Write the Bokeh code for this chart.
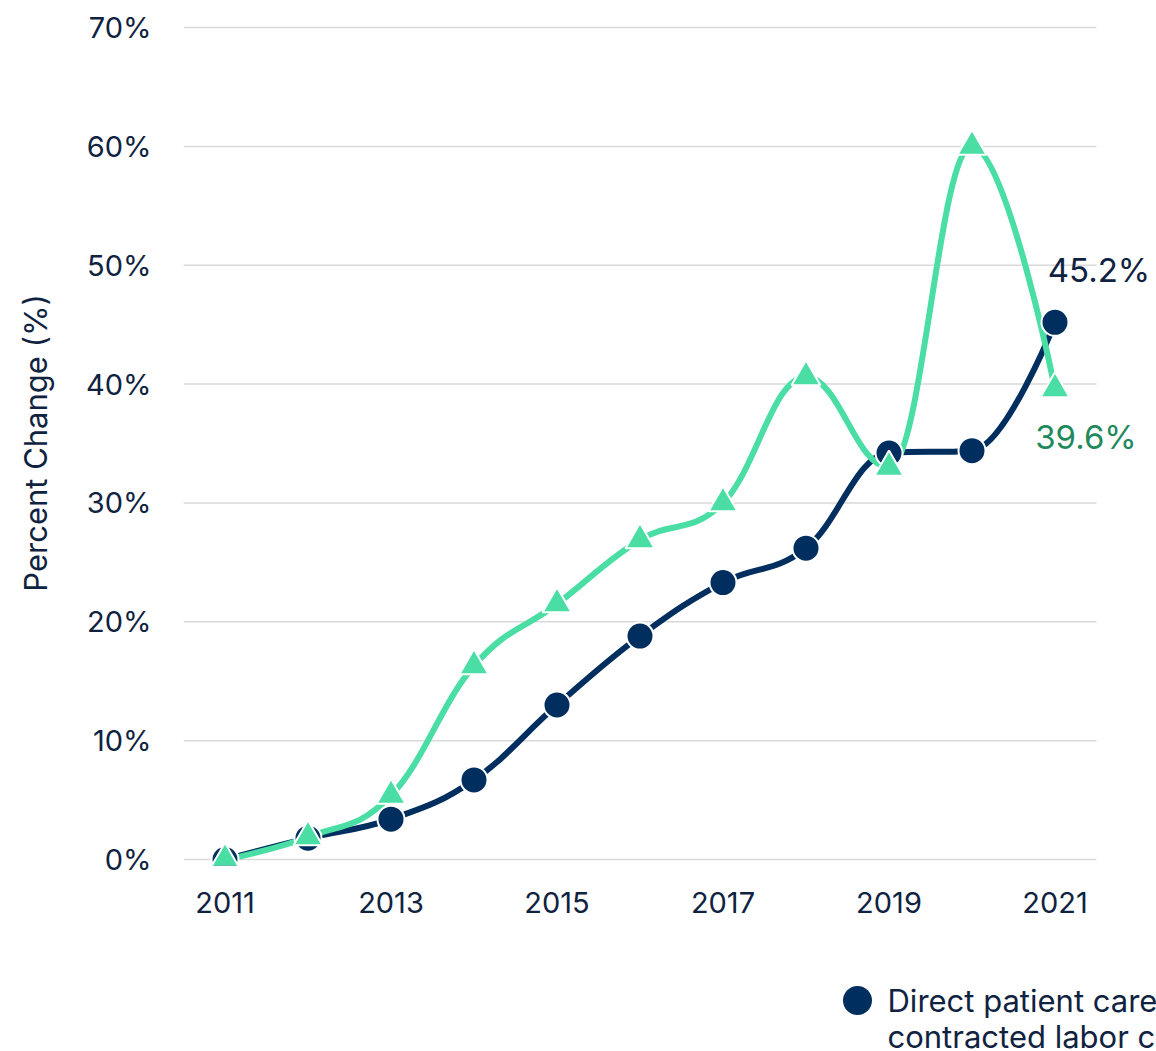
import numpy as np
from bokeh.plotting import figure
from bokeh.layouts import column
from bokeh.models import Range1d, FixedTicker
from bokeh.core.properties import value
from bokeh.embed import file_html
from bokeh.resources import INLINE

# ---------------- data ----------------
years = [2011, 2012, 2013, 2014, 2015, 2016, 2017, 2018, 2019, 2020, 2021]
direct_care = [0.0, 1.8, 3.4, 6.7, 13.0, 18.8, 23.3, 26.2, 34.2, 34.4, 45.2]
contracted = [0.0, 1.9, 5.4, 16.3, 21.5, 26.9, 30.0, 40.6, 33.0, 60.0, 39.6]
y_ticks = [0, 10, 20, 30, 40, 50, 60, 70]
x_ticks = [2011, 2013, 2015, 2017, 2019, 2021]
legend_lines = ["Direct patient care employed and", "contracted labor costs"]

NAVY = "#002F5F"
GREEN = "#4ADEA5"
GREEN_TEXT = "#1F8A5C"
TEXT = "#0F2341"
FONT = "Inter"

X_START, X_END = 2010.5, 2022.223   # frame reaches the right edge of the page
GRID_END = 2021.5                   # gridlines stop here, as in the reference
Y_START, Y_END = -0.5, 70.59


def spline_segments(xs, ys, smoothing=1.5):
    """Highcharts-style spline control points, computed from the data."""
    n = len(xs)
    denom = smoothing + 1
    lcx, lcy, rcx, rcy = list(xs), list(ys), list(xs), list(ys)
    for i in range(1, n - 1):
        px, py = xs[i], ys[i]
        lx, ly = xs[i - 1], ys[i - 1]
        nx, ny = xs[i + 1], ys[i + 1]
        lcX = (smoothing * px + lx) / denom
        lcY = (smoothing * py + ly) / denom
        rcX = (smoothing * px + nx) / denom
        rcY = (smoothing * py + ny) / denom
        if rcX != lcX:
            corr = ((rcY - lcY) * (rcX - px)) / (rcX - lcX) + py - rcY
            lcY += corr
            rcY += corr
        if lcY > ly and lcY > py:
            lcY = max(ly, py)
            rcY = 2 * py - lcY
        elif lcY < ly and lcY < py:
            lcY = min(ly, py)
            rcY = 2 * py - lcY
        if rcY > ny and rcY > py:
            rcY = max(ny, py)
            lcY = 2 * py - rcY
        elif rcY < ny and rcY < py:
            rcY = min(ny, py)
            lcY = 2 * py - rcY
        lcx[i], lcy[i], rcx[i], rcy[i] = lcX, lcY, rcX, rcY
    seg = dict(x0=[], y0=[], x1=[], y1=[], cx0=[], cy0=[], cx1=[], cy1=[])
    for i in range(1, n):
        seg["x0"].append(xs[i - 1]); seg["y0"].append(ys[i - 1])
        seg["x1"].append(xs[i]); seg["y1"].append(ys[i])
        seg["cx0"].append(rcx[i - 1]); seg["cy0"].append(rcy[i - 1])
        seg["cx1"].append(lcx[i]); seg["cy1"].append(lcy[i])
    return seg


MAIN_H = 940
p = figure(width=1156, height=MAIN_H, output_backend="svg", toolbar_location=None,
           x_range=Range1d(X_START, X_END), y_range=Range1d(Y_START, Y_END),
           min_border_left=183, min_border_right=0, min_border_top=20,
           min_border_bottom=MAIN_H - 865)
p.outline_line_color = None
p.background_fill_color = "white"
p.border_fill_color = "white"

# axes
p.xaxis.ticker = FixedTicker(ticks=x_ticks)
p.yaxis.ticker = FixedTicker(ticks=y_ticks)
p.yaxis.major_label_overrides = {t: f"{t}%" for t in y_ticks}
p.xaxis.major_label_overrides = {t: str(t) for t in x_ticks}
for ax in (p.xaxis, p.yaxis):
    ax.axis_line_color = None
    ax.major_tick_line_color = None
    ax.minor_tick_line_color = None
    ax.major_label_text_font = FONT
    ax.major_label_text_font_size = "29px"
    ax.major_label_text_color = TEXT
p.yaxis.major_label_standoff = 26
p.xaxis.major_label_standoff = 20
p.yaxis.axis_label = "Percent Change (%)"
p.yaxis.axis_label_text_font = FONT
p.yaxis.axis_label_text_font_size = "31px"
p.yaxis.axis_label_text_font_style = "normal"
p.yaxis.axis_label_text_color = TEXT
p.yaxis.axis_label_standoff = 29

# horizontal gridlines, limited to the plotting span
p.xgrid.grid_line_color = None
p.ygrid.grid_line_color = None
p.segment(x0=[X_START] * len(y_ticks), x1=[GRID_END] * len(y_ticks), y0=y_ticks, y1=y_ticks,
          line_color="#D9D9D9", line_width=1.5)

# lines
for ys, col in ((direct_care, NAVY), (contracted, GREEN)):
    seg = spline_segments(years, ys)
    p.bezier(x0=seg["x0"], y0=seg["y0"], x1=seg["x1"], y1=seg["y1"],
             cx0=seg["cx0"], cy0=seg["cy0"], cx1=seg["cx1"], cy1=seg["cy1"],
             line_color=col, line_width=6, line_cap="round")

p.scatter(years, direct_care, marker="circle", size=27,
          fill_color=NAVY, line_color="white", line_width=2)
p.scatter(years, contracted, marker="triangle", size=29,
          fill_color=GREEN, line_color="white", line_width=2)

# end labels
p.text(x=[years[-1]], y=[direct_care[-1]], text=[f"{direct_care[-1]}%"],
       x_offset=44, y_offset=-52, text_align="center", text_baseline="middle",
       text_font=value(FONT), text_font_size="33px", text_color=TEXT)
p.text(x=[years[-1]], y=[contracted[-1]], text=[f"{contracted[-1]}%"],
       x_offset=31, y_offset=48, text_align="center", text_baseline="middle",
       text_font=value(FONT), text_font_size="33px", text_color=GREEN_TEXT)

# legend strip (separate figure in page-pixel coordinates, below the chart)
LEG_H = 1051 - MAIN_H
lg = figure(width=1156, height=LEG_H, output_backend="svg", toolbar_location=None,
            x_range=Range1d(183, 1156), y_range=Range1d(LEG_H, 0),
            min_border=0, min_border_left=183, min_border_right=0,
            x_axis_type=None, y_axis_type=None)
lg.outline_line_color = None
lg.grid.visible = False
lg.scatter(x=[857], y=[1000 - MAIN_H], marker="circle", size=29,
           fill_color=NAVY, line_color=None)
lg.text(x=[887, 887], y=[1000 - MAIN_H, 1036 - MAIN_H], text=legend_lines,
        text_baseline="middle", text_align="left",
        text_font=value(FONT), text_font_size="31px", text_color=TEXT)

layout = column(p, lg, spacing=0)
open("out.html", "w").write(file_html(layout, INLINE))
